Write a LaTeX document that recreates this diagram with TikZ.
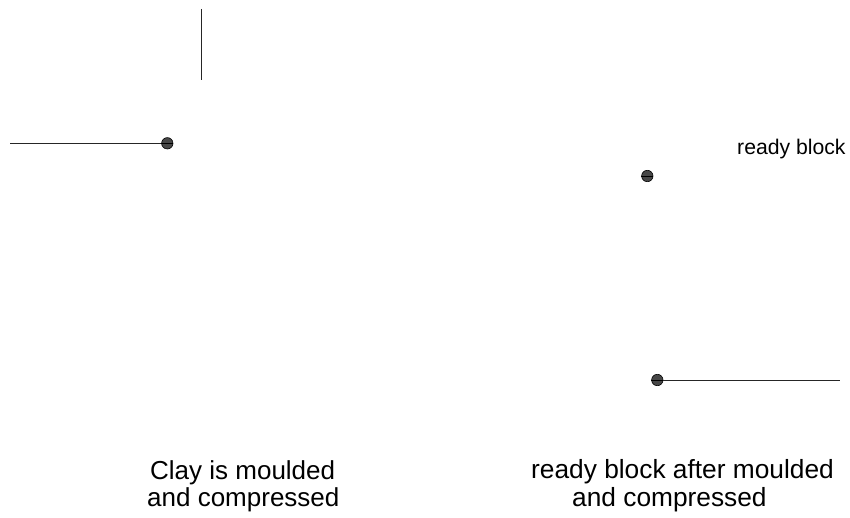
\documentclass[tikz,border=0pt]{standalone}
\usepackage{fontspec}
\setmainfont{Liberation Sans}
\begin{document}
\begin{tikzpicture}[x=1pt,y=-1pt,
  dot/.style={circle,inner sep=0pt,minimum size=11.4pt,fill=black!72,draw=black,line width=0.6pt},
  stripe/.style={black,line width=0.9pt},
  wire/.style={line width=0.9pt,black!85},
  big/.style={inner sep=0pt,anchor=base west,font=\fontsize{26}{28}\selectfont},
  bigr/.style={inner sep=0pt,anchor=base west,font=\fontsize{26.3}{28}\selectfont},
  small/.style={inner sep=0pt,anchor=base west,font=\fontsize{21.2}{24}\selectfont}]
\useasboundingbox (0,0) rectangle (850,518);
% vertical line
\coordinate (v1) at (201.7,9);
\coordinate (v2) at (201.7,80);
\draw[wire] (v1) -- (v2);
% left dot with line
\coordinate (l1) at (10,143.3);
\node[dot] (d1) at (167.3,143.3) {};
\draw[wire] (l1) -- (d1.center);
\draw[stripe] (d1.west) -- (d1.east);
% middle dot
\node[dot] (d2) at (647.3,176) {};
\draw[stripe] (d2.west) -- (d2.east);
% lower right dot with line
\node[dot] (d3) at (657.3,380) {};
\coordinate (r1) at (840,380);
\draw[wire] (d3.center) -- (r1);
\draw[stripe] (d3.west) -- (d3.east);
% texts
\node[small] (rb) at (737,155) {ready block};
\node[big] (c1) at (150,479.5) {Clay is moulded};
\node[big] (c2) at (147,506) {and compressed};
\node[bigr] (b1) at (531,478) {ready block after moulded};
\node[bigr] (b2) at (572,506) {and compressed};
\end{tikzpicture}
\end{document}
